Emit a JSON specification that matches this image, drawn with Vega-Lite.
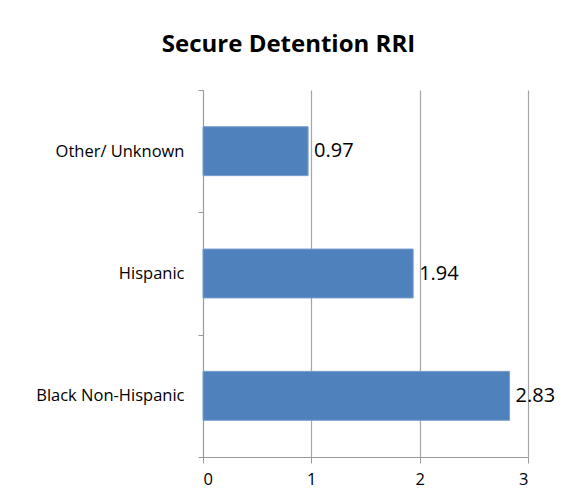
{
  "$schema": "https://vega.github.io/schema/vega-lite/v6.json",
  "width": 325,
  "height": 367,
  "autosize": {"type": "none"},
  "padding": {"left": 203, "top": 90, "right": 40, "bottom": 47},
  "background": "white",
  "title": {
    "text": "Secure Detention RRI",
    "font": "Open Sans",
    "fontSize": 24,
    "fontWeight": "bold",
    "color": "black",
    "anchor": "middle",
    "frame": "group",
    "baseline": "alphabetic",
    "offset": 6,
    "dx": -77
  },
  "data": {
    "values": [
      {"group": "Other/ Unknown", "rri": 0.97},
      {"group": "Hispanic", "rri": 1.94},
      {"group": "Black Non-Hispanic", "rri": 2.83}
    ]
  },
  "encoding": {
    "y": {
      "field": "group",
      "type": "nominal",
      "sort": null,
      "title": null,
      "scale": {"paddingInner": 0, "paddingOuter": 0},
      "axis": {
        "tickBand": "extent",
        "domainColor": "#9a9a9a",
        "tickColor": "#9a9a9a",
        "tickSize": 5,
        "labelPadding": 14,
        "labelFont": "Open Sans",
        "labelFontSize": 16.5,
        "labelColor": "black",
        "grid": false
      }
    },
    "x": {
      "field": "rri",
      "type": "quantitative",
      "title": null,
      "scale": {"domain": [0, 3], "nice": false},
      "axis": {
        "values": [0, 1, 2, 3],
        "domainColor": "#9a9a9a",
        "tickColor": "#9a9a9a",
        "gridColor": "#a6a6a6",
        "gridWidth": 1.2,
        "tickSize": 6,
        "labelPadding": 8,
        "labelFont": "Open Sans",
        "labelFontSize": 16.5,
        "labelColor": "black"
      }
    }
  },
  "layer": [
    {
      "mark": {"type": "bar", "color": "#4f81bd", "stroke": "#7a9fd0", "strokeWidth": 1, "height": {"band": 0.4}}
    },
    {
      "mark": {
        "type": "text",
        "align": "left",
        "baseline": "middle",
        "dx": 6,
        "font": "Open Sans",
        "fontSize": 20,
        "color": "black"
      },
      "encoding": {
        "text": {"field": "rri", "type": "quantitative", "format": ".2f"}
      }
    }
  ],
  "config": {
    "view": {"stroke": null}
  }
}
